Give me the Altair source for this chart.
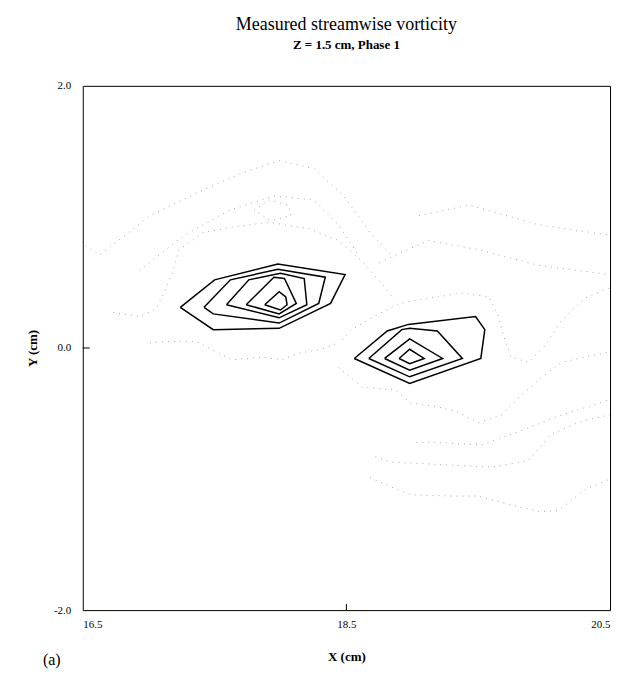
import altair as alt
import pandas as pd

# ---- data (cm) ----
# positive vorticity contours (solid), left vortex
L1_x = [17.24, 17.50, 17.98, 18.49, 18.38, 17.99, 17.49, 17.24]
L1_y = [0.31, 0.52, 0.64, 0.56, 0.34, 0.15, 0.14, 0.31]
L2_x = [17.42, 17.62, 17.98, 18.34, 18.29, 17.99, 17.49, 17.42]
L2_y = [0.31, 0.52, 0.60, 0.54, 0.34, 0.19, 0.26, 0.31]
L3_x = [17.59, 17.76, 18.00, 18.18, 18.20, 17.99, 17.59]
L3_y = [0.33, 0.52, 0.57, 0.53, 0.33, 0.23, 0.33]
L4_x = [17.74, 17.95, 18.03, 18.12, 17.99, 17.74]
L4_y = [0.33, 0.54, 0.53, 0.34, 0.26, 0.33]
L5_x = [17.88, 17.99, 18.04, 18.05, 18.00, 17.88]
L5_y = [0.33, 0.43, 0.39, 0.33, 0.29, 0.33]
# right vortex
R1_x = [18.56, 18.81, 18.97, 19.48, 19.55, 19.52, 18.98, 18.56]
R1_y = [-0.08, 0.13, 0.18, 0.24, 0.14, -0.08, -0.27, -0.08]
R2_x = [18.67, 18.92, 18.98, 19.19, 19.38, 18.98, 18.67]
R2_y = [-0.08, 0.14, 0.15, 0.13, -0.08, -0.22, -0.08]
R3_x = [18.79, 18.98, 19.23, 18.98, 18.79]
R3_y = [-0.08, 0.07, -0.08, -0.17, -0.08]
R4_x = [18.90, 18.98, 19.09, 18.98, 18.90]
R4_y = [-0.08, -0.01, -0.08, -0.12, -0.08]

# other contours (dotted)
N1_x = [16.52, 16.63, 17.01, 17.38, 17.72, 17.99, 18.25, 18.48, 18.68, 18.86]
N1_y = [0.78, 0.71, 1.01, 1.19, 1.34, 1.43, 1.37, 1.16, 0.88, 0.69]
N2_x = [16.93, 17.27, 17.61, 17.95, 18.25, 18.44, 18.59]
N2_y = [0.59, 0.86, 1.05, 1.16, 1.13, 0.94, 0.71]
N3_x = [17.80, 17.91, 18.06, 18.08, 17.93, 17.80]
N3_y = [1.05, 1.13, 1.09, 1.01, 0.97, 1.05]
N4_x = [16.73, 16.93, 17.06, 17.10, 17.18, 17.23, 17.33, 17.41, 17.63, 17.91, 18.22, 18.44, 18.63, 18.77, 18.86]
N4_y = [0.27, 0.24, 0.30, 0.39, 0.57, 0.75, 0.82, 0.88, 0.92, 0.96, 0.91, 0.82, 0.65, 0.49, 0.37]
N6_x = [18.47, 18.54, 18.69, 18.90, 19.07, 19.20, 19.37, 19.58, 19.65, 19.69, 19.75, 19.88, 20.01, 20.13, 20.31, 20.50]
N6_y = [0.06, 0.14, 0.23, 0.34, 0.37, 0.39, 0.42, 0.39, 0.25, 0.10, -0.07, -0.11, 0.02, 0.21, 0.38, 0.46]
N7_x = [18.44, 18.62, 18.87, 18.99, 19.20, 19.35, 19.50, 19.68, 19.80, 19.96, 20.13, 20.31, 20.50]
N7_y = [-0.15, -0.30, -0.32, -0.42, -0.45, -0.49, -0.57, -0.51, -0.39, -0.24, -0.11, -0.07, -0.03]
N9_x = [19.03, 19.18, 19.52, 19.80, 20.11, 20.39, 20.50]
N9_y = [-0.72, -0.72, -0.74, -0.64, -0.52, -0.43, -0.39]
N10_x = [18.72, 18.84, 19.60, 19.88, 20.05, 20.28, 20.50]
N10_y = [-0.83, -0.87, -0.91, -0.86, -0.66, -0.56, -0.51]
N11_x = [18.68, 18.84, 18.99, 19.30, 19.50, 19.80, 19.97, 20.11, 20.31, 20.50]
N11_y = [-0.99, -1.06, -1.12, -1.13, -1.13, -1.21, -1.25, -1.24, -1.08, -1.00]
N12_x = [18.75, 19.12, 19.50, 19.96, 20.50]
N12_y = [0.65, 0.82, 0.75, 0.63, 0.56]
N13_x = [19.05, 19.43, 19.96, 20.50]
N13_y = [1.01, 1.09, 0.94, 0.86]
N15_x = [17.01, 17.16, 17.36, 17.63, 17.86, 18.01, 18.14, 18.31, 18.44]
N15_y = [0.04, 0.05, 0.05, -0.09, -0.07, -0.09, -0.04, -0.01, 0.04]

solid = {"L1": (L1_x, L1_y), "L2": (L2_x, L2_y), "L3": (L3_x, L3_y),
         "L4": (L4_x, L4_y), "L5": (L5_x, L5_y), "R1": (R1_x, R1_y),
         "R2": (R2_x, R2_y), "R3": (R3_x, R3_y), "R4": (R4_x, R4_y)}
dotted = {"N1": (N1_x, N1_y), "N2": (N2_x, N2_y), "N3": (N3_x, N3_y),
          "N4": (N4_x, N4_y), "N6": (N6_x, N6_y), "N7": (N7_x, N7_y),
          "N9": (N9_x, N9_y), "N10": (N10_x, N10_y), "N11": (N11_x, N11_y),
          "N12": (N12_x, N12_y), "N13": (N13_x, N13_y), "N15": (N15_x, N15_y)}


def frame(d):
    rows = []
    for k, (xs, ys) in d.items():
        for i, (a, b) in enumerate(zip(xs, ys)):
            rows.append({"c": k, "i": i, "x": a, "y": b})
    return pd.DataFrame(rows)


W, H = 529, 526
FONT = "Liberation Serif"

xs = alt.Scale(domain=[16.5, 20.5], nice=False, zero=False)
ys = alt.Scale(domain=[-2.0, 2.0], nice=False, zero=False)

lab = "datum.value < 0 ? '-' + format(-datum.value, '.1f') : format(datum.value, '.1f')"

xenc = alt.X("x:Q", scale=xs, axis=alt.Axis(
    values=[16.5, 18.5, 20.5], title="X (cm)", ticks=False, domain=False, grid=False,
    labelFlush=True, labelPadding=8, labelFont=FONT, labelFontSize=11,
    titleFont=FONT, titleFontSize=13, titleFontWeight="bold", titlePadding=22,
    labelColor="black", titleColor="black"))
yenc = alt.Y("y:Q", scale=ys, axis=alt.Axis(
    values=[-2.0, 0.0, 2.0], title="Y (cm)", ticks=False, domain=False, grid=False,
    labelFlush=False, labelPadding=12, labelExpr=lab, labelFont=FONT, labelFontSize=11,
    titleFont=FONT, titleFontSize=13, titleFontWeight="bold", titlePadding=14,
    labelColor="black", titleColor="black"))

dots = alt.Chart(frame(dotted)).mark_line(
    color="#a8a8a8", strokeWidth=1, strokeDash=[1, 5]).encode(
    x=xenc, y=yenc, detail="c:N", order="i:Q")

lines = alt.Chart(frame(solid)).mark_line(
    color="black", strokeWidth=1.5).encode(
    x=alt.X("x:Q", scale=xs), y=alt.Y("y:Q", scale=ys), detail="c:N", order="i:Q")

ytick = alt.Chart(pd.DataFrame({"v": [0.0]})).mark_rule(color="black").encode(
    y=alt.Y("v:Q", scale=ys), x=alt.value(0), x2=alt.value(7))
xtick = alt.Chart(pd.DataFrame({"v": [18.5]})).mark_rule(color="black").encode(
    x=alt.X("v:Q", scale=xs), y=alt.value(H), y2=alt.value(H - 6))

panel = alt.Chart(pd.DataFrame({"t": ["(a)"]})).mark_text(
    font=FONT, fontSize=16, align="left", baseline="middle").encode(
    text="t:N", x=alt.value(-40), y=alt.value(H + 50))

chart = alt.layer(dots, lines, ytick, xtick, panel).properties(
    width=W, height=H,
    title=alt.Title("Measured streamwise vorticity", subtitle="Z = 1.5 cm, Phase 1",
                    font=FONT, fontSize=18, fontWeight="normal", color="black",
                    subtitleFont=FONT, subtitleFontSize=13, subtitleFontWeight="bold",
                    subtitleColor="black", subtitlePadding=5, offset=28, anchor="middle"),
    padding={"left": 75, "top": 77, "right": 10, "bottom": 62},
    autosize="none",
).configure_view(stroke="black", strokeWidth=1)

chart.save("out.html", embed_options={"renderer": "svg", "actions": False})
